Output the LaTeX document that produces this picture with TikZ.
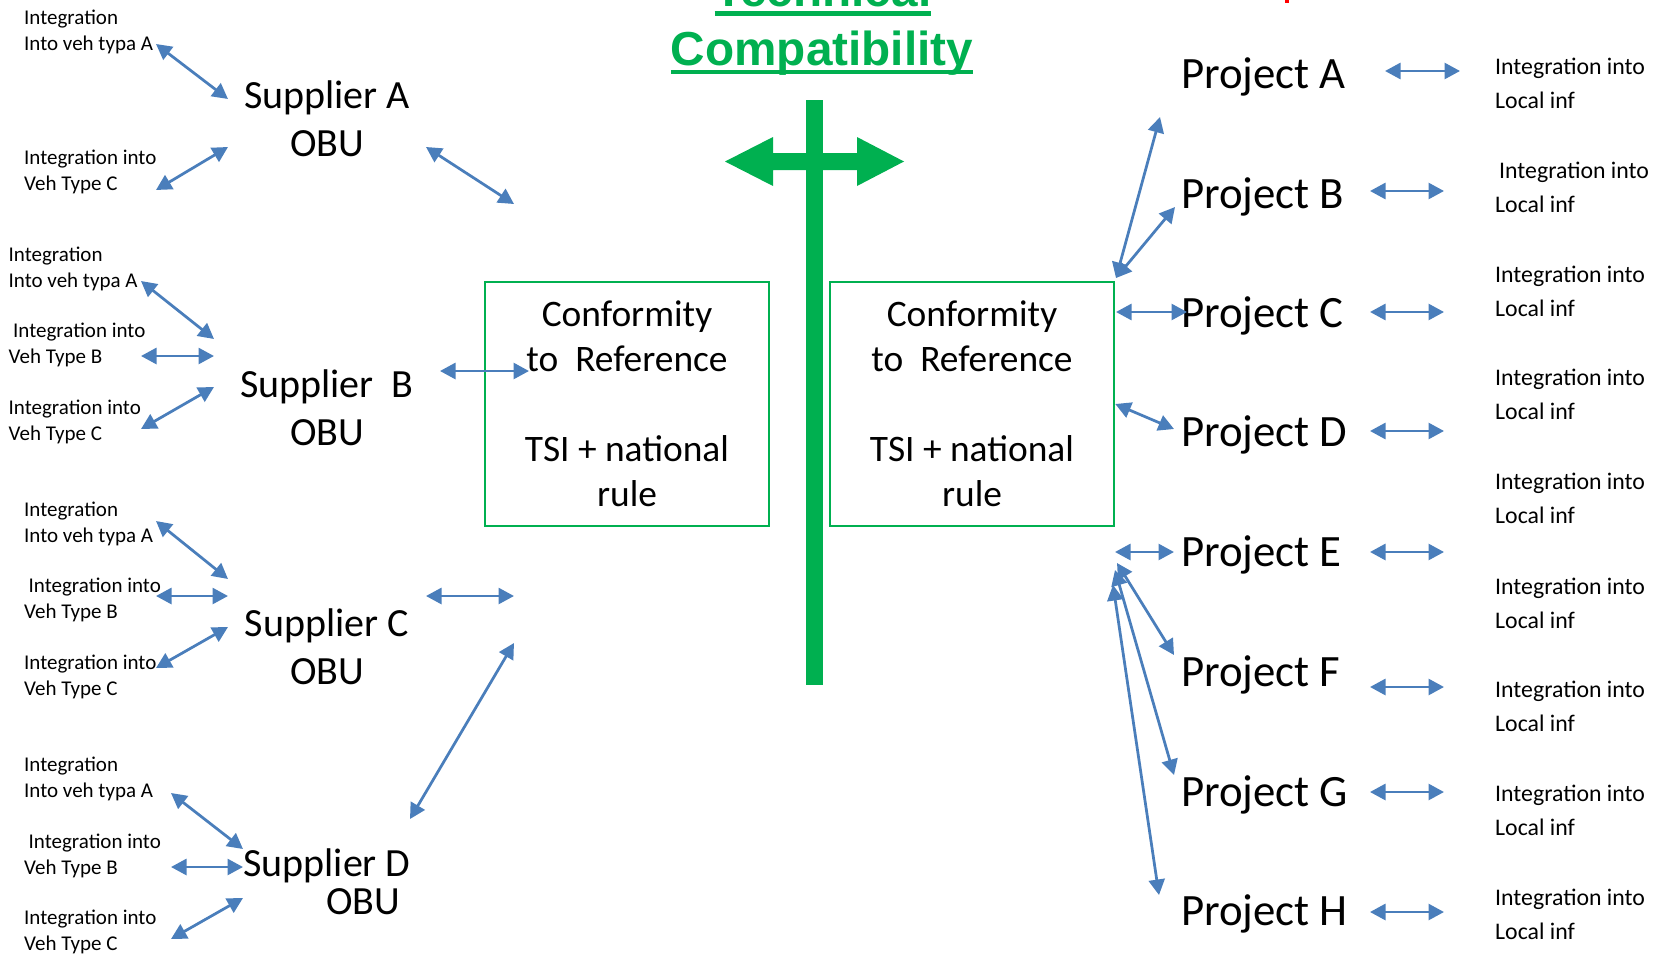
\documentclass[tikz,border=0pt]{standalone}
\usepackage{fontspec}
\setmainfont{Carlito}
\newfontfamily\titlefont{Liberation Sans}
\usetikzlibrary{arrows.meta}
\definecolor{tcgreen}{HTML}{00B050}
\definecolor{linkblue}{HTML}{4A7EBB}
\definecolor{headred}{HTML}{FF0000}

\tikzset{
  link/.style={draw=linkblue, line width=2.75bp,
    {Triangle[length=15.5bp,width=16bp]}-{Triangle[length=15.5bp,width=16bp]}},
  headline/.style={font=\titlefont\bfseries\fontsize{47.7bp}{56bp}\selectfont,
    text=tcgreen, inner sep=0, anchor=base},
  smalllabel/.style={font=\fontsize{21bp}{26bp}\selectfont, align=left,
    inner sep=0, anchor=west},
  locallabel/.style={font=\fontsize{23.8bp}{34bp}\selectfont, align=left,
    inner sep=0, anchor=west},
  supplier/.style={font=\fontsize{40bp}{48bp}\selectfont, align=center, inner sep=0},
  project/.style={font=\fontsize{44.8bp}{50bp}\selectfont, inner sep=0, anchor=base west},
  refbox/.style={draw=tcgreen, line width=2.5bp, minimum width=284bp,
    minimum height=244bp, align=center, inner sep=0,
    font=\fontsize{37.4bp}{45bp}\selectfont},
}

\begin{document}
\begin{tikzpicture}[x=1bp,y=-1bp]
\useasboundingbox (0,0) rectangle (1658,954);

% ---------- heading ----------
\node[headline] (tech) at (823,6) {Technical};
\node[headline] (compat) at (822,65) {Compatibility};
\draw[tcgreen, line width=4.5bp] ([yshift=-7.5bp]tech.base west) -- ([yshift=-7.5bp]tech.base east);
\draw[tcgreen, line width=4.5bp] ([yshift=-7bp]compat.base west) -- ([yshift=-7bp]compat.base east);
\fill[headred] (1285,0) rectangle (1289,3);

% ---------- green cross ----------
\fill[tcgreen] (806,100) rectangle (823,685);
\fill[tcgreen] (725,161.5) -- (773,137) -- (773,153) -- (857,153) -- (857,137)
  -- (904,161.5) -- (857,186) -- (857,170) -- (773,170) -- (773,186) -- cycle;

% ---------- reference boxes ----------
\node[refbox] (lbox) at (627,404) {Conformity\\to\ \ Reference\\[45bp]TSI + national\\rule};
\node[refbox] (rbox) at (972,404) {Conformity\\to\ \ Reference\\[45bp]TSI + national\\rule};

% ---------- suppliers ----------
\node[supplier] (supA) at (327,118.5) {Supplier A\\OBU};
\node[supplier] (supB) at (327,408) {Supplier\ \ B\\OBU};
\node[supplier] (supC) at (327,647) {Supplier C\\OBU};
\node[supplier, align=left, font=\fontsize{40bp}{38bp}\selectfont] (supD) at (327,882)
  {Supplier D\\\hspace*{83bp}OBU};

% vehicle integration labels
\node[smalllabel] (la1) at (24,31.5) {Integration\\Into veh typa A};
\node[smalllabel] (la3) at (24,171.5) {Integration into\\Veh Type C};
\node[smalllabel] (lb1) at (8.5,268.5) {Integration\\Into veh typa A};
\node[smalllabel] (lb2) at (8.5,344.5) {\hspace*{4.5bp}Integration into\\Veh Type B};
\node[smalllabel] (lb3) at (8.5,422) {Integration into\\Veh Type C};
\node[smalllabel] (lc1) at (24,523.5) {Integration\\Into veh typa A};
\node[smalllabel] (lc2) at (24,600) {\hspace*{4.5bp}Integration into\\Veh Type B};
\node[smalllabel] (lc3) at (24,676.5) {Integration into\\Veh Type C};
\node[smalllabel] (ld1) at (24,778.5) {Integration\\Into veh typa A};
\node[smalllabel] (ld2) at (24,855.5) {\hspace*{4.5bp}Integration into\\Veh Type B};
\node[smalllabel] (ld3) at (24,931.5) {Integration into\\Veh Type C};

% ---------- projects ----------
\node[project] (prA) at (1181,88) {Project A};
\node[project] (prB) at (1181,208) {Project B};
\node[project] (prC) at (1181,327) {Project C};
\node[project] (prD) at (1181,446) {Project D};
\node[project] (prE) at (1181,566) {Project E};
\node[project] (prF) at (1181,686) {Project F};
\node[project] (prG) at (1181,806) {Project G};
\node[project] (prH) at (1181,925) {Project H};

% local infrastructure labels
\node[locallabel] (loc1) at (1495,83) {Integration into\\Local inf};
\node[locallabel] (loc2) at (1495,187.5) {\hspace*{4bp}Integration into\\Local inf};
\node[locallabel] (loc3) at (1495,291) {Integration into\\Local inf};
\node[locallabel] (loc4) at (1495,394.5) {Integration into\\Local inf};
\node[locallabel] (loc5) at (1495,498.5) {Integration into\\Local inf};
\node[locallabel] (loc6) at (1495,603) {Integration into\\Local inf};
\node[locallabel] (loc7) at (1495,706) {Integration into\\Local inf};
\node[locallabel] (loc8) at (1495,810.5) {Integration into\\Local inf};
\node[locallabel] (loc9) at (1495,914.5) {Integration into\\Local inf};

% ---------- connector end points ----------
\coordinate (a1s) at (156,44);   \coordinate (a1e) at (228,99);
\coordinate (a3s) at (156,190);  \coordinate (a3e) at (228,147);
\coordinate (a4s) at (426,147);  \coordinate (a4e) at (514,204);
\coordinate (b1s) at (141,281);  \coordinate (b1e) at (214,339);
\coordinate (b2s) at (141,356);  \coordinate (b2e) at (214,356);
\coordinate (b3s) at (141,429);  \coordinate (b3e) at (214,387);
\coordinate (b4s) at (440,371);  \coordinate (b4e) at (529,371);
\coordinate (c1s) at (156,521);  \coordinate (c1e) at (228,579);
\coordinate (c2s) at (156,596);  \coordinate (c2e) at (228,596);
\coordinate (c3s) at (156,668);  \coordinate (c3e) at (228,627);
\coordinate (c4s) at (426,596);  \coordinate (c4e) at (514,596);
\coordinate (c5s) at (514,643);  \coordinate (c5e) at (410,819);
\coordinate (d1s) at (171,793);  \coordinate (d1e) at (243,849);
\coordinate (d2s) at (171,867);  \coordinate (d2e) at (243,867);
\coordinate (d3s) at (171,939);  \coordinate (d3e) at (243,898);

\coordinate (hubT) at (1116,278);
\coordinate (hubC) at (1116,312);
\coordinate (hubE) at (1115,552);
\coordinate (hubF) at (1117,563);
\coordinate (hubG) at (1115,570);
\coordinate (hubH) at (1113,585);
\coordinate (tA) at (1160,117);
\coordinate (tB) at (1175,207);
\coordinate (tC) at (1187,312);
\coordinate (tD) at (1174,429);
\coordinate (tE) at (1174,552);
\coordinate (tF) at (1174,655);
\coordinate (tG) at (1174,775);
\coordinate (tH) at (1159,895);

\coordinate (rAs) at (1385,71);  \coordinate (rAe) at (1460,71);
\coordinate (rBs) at (1370,191); \coordinate (rBe) at (1444,191);
\coordinate (rCs) at (1370,312); \coordinate (rCe) at (1444,312);
\coordinate (rDs) at (1370,431); \coordinate (rDe) at (1444,431);
\coordinate (rEs) at (1370,552); \coordinate (rEe) at (1444,552);
\coordinate (rFs) at (1370,687); \coordinate (rFe) at (1444,687);
\coordinate (rGs) at (1370,792); \coordinate (rGe) at (1444,792);
\coordinate (rHs) at (1370,912); \coordinate (rHe) at (1444,912);

% ---------- connectors: suppliers ----------
\draw[link] (a1s) -- (a1e);
\draw[link] (a3s) -- (a3e);
\draw[link] (a4s) -- (a4e);
\draw[link] (b1s) -- (b1e);
\draw[link] (b2s) -- (b2e);
\draw[link] (b3s) -- (b3e);
\draw[link] (b4s) -- (b4e);
\draw[link] (c1s) -- (c1e);
\draw[link] (c2s) -- (c2e);
\draw[link] (c3s) -- (c3e);
\draw[link] (c4s) -- (c4e);
\draw[link] (c5s) -- (c5e);
\draw[link] (d1s) -- (d1e);
\draw[link] (d2s) -- (d2e);
\draw[link] (d3s) -- (d3e);

% ---------- connectors: projects ----------
\draw[link] (hubT) -- (tA);
\draw[link] (hubT) -- (tB);
\draw[link] (hubC) -- (tC);
\draw[link] (rbox.east) -- (tD);
\draw[link] (hubE) -- (tE);
\draw[link] (hubF) -- (tF);
\draw[link] (hubG) -- (tG);
\draw[link] (hubH) -- (tH);

\draw[link] (rAs) -- (rAe);
\draw[link] (rBs) -- (rBe);
\draw[link] (rCs) -- (rCe);
\draw[link] (rDs) -- (rDe);
\draw[link] (rEs) -- (rEe);
\draw[link] (rFs) -- (rFe);
\draw[link] (rGs) -- (rGe);
\draw[link] (rHs) -- (rHe);
\end{tikzpicture}
\end{document}
